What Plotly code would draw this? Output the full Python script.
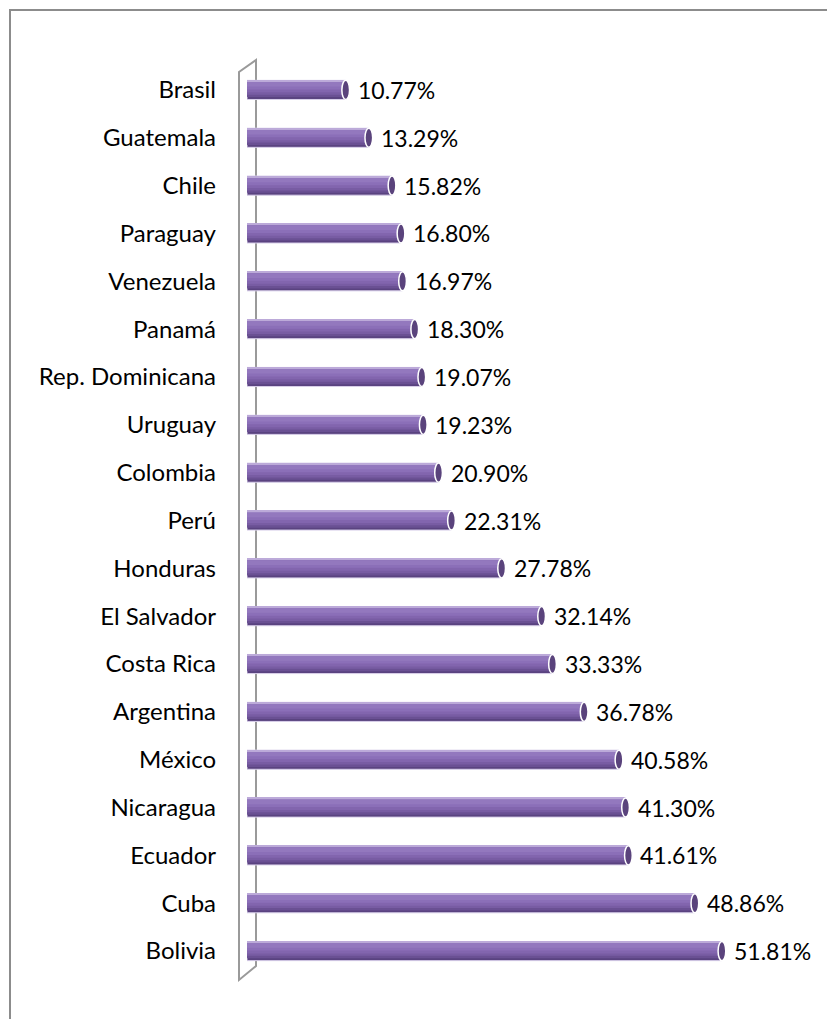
import plotly.graph_objects as go

countries = ["Brasil", "Guatemala", "Chile", "Paraguay", "Venezuela", "Panamá",
             "Rep. Dominicana", "Uruguay", "Colombia", "Perú", "Honduras",
             "El Salvador", "Costa Rica", "Argentina", "México", "Nicaragua",
             "Ecuador", "Cuba", "Bolivia"]
values = [10.77, 13.29, 15.82, 16.80, 16.97, 18.30, 19.07, 19.23, 20.90, 22.31,
          27.78, 32.14, 33.33, 36.78, 40.58, 41.30, 41.61, 48.86, 51.81]
labels = [f"{v:.2f}%" for v in values]

FONT = "Lato"
fig = go.Figure()

# cylinder-like shading with overlaid bar layers (reversed y: negative offset = up)
layers = [
    (-0.20, 0.40, "#5a4380", 1.0, "#d9d0ea"),
    (-0.20, 0.35, "#6a5093", 0, None),
    (-0.20, 0.30, "#785ca3"),
    (-0.19, 0.24, "#8265ae"),
    (-0.18, 0.17, "#8b6fb8"),
    (-0.17, 0.10, "#9378be"),
    (-0.20, 0.025, "#bcaad9"),
]
for lay in layers:
    off, w, col = lay[0], lay[1], lay[2]
    lw = lay[3] if len(lay) > 3 else 0
    lc = lay[4] if len(lay) > 4 and lay[4] else col
    fig.add_trace(go.Bar(
        x=values, y=countries, orientation="h",
        offset=off, width=w, marker=dict(color=col, line=dict(width=lw, color=lc)),
        hoverinfo="skip", showlegend=False,
    ))

# page body adds an 8px offset; work in page pixels minus that
OFF = 8
W, H = 835 - OFF, 1019 - OFF
L, T, Bt = 247 - OFF, 66 - OFF, 975 - OFF
PW = 550
PH = Bt - T


def px(x):
    return (x - OFF - L) / PW


def py(y):
    return (Bt - (y - OFF)) / PH


shapes = []
# end caps
for i, v in enumerate(values):
    shapes.append(dict(type="circle", xref="x", yref="y",
                       x0=v - 0.42, x1=v + 0.42, y0=i - 0.2, y1=i + 0.2,
                       fillcolor="#5a437c", line=dict(color="white", width=1.5),
                       layer="above"))
# 3D wall on the left (decorative)
wall = (f"M {px(239)},{py(980)} L {px(239)},{py(72)} L {px(256)},{py(60)} "
        f"L {px(256)},{py(966)} Z")
shapes.append(dict(type="path", xref="paper", yref="paper", path=wall,
                   line=dict(color="#9a9a9a", width=2), layer="below"))
# outer border
shapes.append(dict(type="rect", xref="paper", yref="paper",
                   x0=px(10), x1=px(850), y0=py(10), y1=py(1040),
                   line=dict(color="#8c8c8c", width=2), layer="below"))

annotations = []
for c, v, t in zip(countries, values, labels):
    annotations.append(dict(x=v, y=c, xref="x", yref="y", text=t,
                            showarrow=False, xanchor="left", xshift=10,
                            font=dict(family=FONT, size=23, color="#000000")))

fig.update_layout(
    width=W, height=H,
    margin=dict(l=L, r=W - L - PW, t=T, b=H - Bt),
    barmode="overlay",
    plot_bgcolor="white", paper_bgcolor="white",
    shapes=shapes, annotations=annotations,
    xaxis=dict(range=[0, 60], visible=False, fixedrange=True),
    yaxis=dict(autorange="reversed", showgrid=False, zeroline=False,
               showline=False, ticks="", ticklabelstandoff=30,
               tickfont=dict(family=FONT, size=24, color="#000000")),
)

fig.write_html("out.html")
